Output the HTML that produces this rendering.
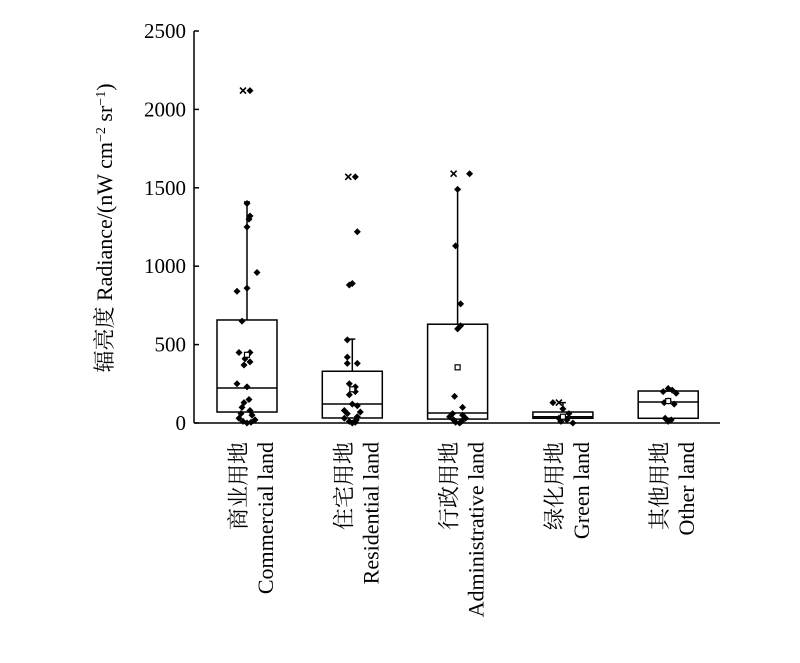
<!DOCTYPE html>
<html><head><meta charset="utf-8"><style>
body{margin:0;background:#fff;}
svg text{font-family:"Liberation Serif","Noto Serif CJK SC",serif;fill:#000;}
</style></head><body>
<svg id="chart" width="800" height="658" viewBox="0 0 800 658" xmlns="http://www.w3.org/2000/svg">
<g id="axes"></g><g id="marks"></g>
<text transform="translate(112,228) rotate(-90)" text-anchor="middle" font-size="22">辐亮度 Radiance/(nW cm<tspan baseline-shift="super" font-size="14">−2</tspan> sr<tspan baseline-shift="super" font-size="14">−1</tspan>)</text>
</svg>
<script>
const categoriesCN=["商业用地","住宅用地","行政用地","绿化用地","其他用地"];
const categoriesEN=["Commercial land","Residential land","Administrative land","Green land","Other land"];
const q1=[70,32,25,30,30];
const median=[223,121,64,40,134];
const q3=[657,330,630,70,204];
const whiskerTop=[1410,535,1490,130,204];
const whiskerBottom=[0,0,0,0,20];
const means=[435,215,355,40,140];
const outliersX=[2120,1570,1590,130,null];
const yTicks=[0,500,1000,1500,2000,2500];
const pts=[
 [2120,1400,1320,1300,1250,960,860,840,650,450,450,410,390,370,250,230,150,130,100,80,60,50,30,20,10,5,0],
 [1570,1220,890,880,530,420,380,380,250,230,200,180,120,110,80,70,60,40,30,20,10,5,0],
 [1590,1490,1130,760,620,600,170,100,60,50,40,30,20,10,5,0],
 [130,90,60,30,20,10,0],
 [220,210,200,190,140,130,120,30,20,10]
];
const jit=[[3,0,3,2,0,10,0,-10,-5,-8,3,-2,3,-3,-10,0,2,-3,-5,3,-6,5,-8,8,-4,4,0],
 [3,5,0,-3,-5,-5,-5,5,-3,3,3,-3,0,5,-8,8,-5,5,-8,4,-3,3,0],
 [12,0,-2,3,3,0,-3,5,-5,5,-8,8,-4,4,-2,2],
 [-10,0,6,-4,4,-2,10],
 [0,4,-5,8,0,-4,6,-3,3,0]];
const NS="http://www.w3.org/2000/svg";
const x0=194,x1=720,yZero=423,yTop=31;
const ys=v=>yZero-(v/2500)*(yZero-yTop);
const xs=i=>247+i*105.3;
function mk(t,a,p){const e=document.createElementNS(NS,t);for(const k in a)e.setAttribute(k,a[k]);p.appendChild(e);return e;}
const ax=document.getElementById('axes'),mg=document.getElementById('marks');
let l=mk('line',{x1:x0,y1:yTop,x2:x0,y2:yZero,stroke:'#000','stroke-width':1.5},ax);


l=mk('line',{x1:x0,y1:yZero,x2:x1,y2:yZero,stroke:'#000','stroke-width':1.5},ax);


yTicks.forEach(v=>{
 let t=mk('line',{x1:x0,y1:ys(v),x2:x0+5,y2:ys(v),stroke:'#000','stroke-width':1.5},ax);
 
 
 let tx=mk('text',{x:x0-8,y:ys(v)+7,'text-anchor':'end','font-size':21},ax);
 
 
 tx.textContent=v;
});
categoriesCN.forEach((c,i)=>{
 const cx=xs(i);
 let g=mk('g',{},mg);
 
 
 mk('line',{x1:cx,y1:ys(whiskerTop[i]),x2:cx,y2:ys(q3[i]),stroke:'#000','stroke-width':1.5},g);
 mk('line',{x1:cx-3,y1:ys(whiskerTop[i]),x2:cx+3,y2:ys(whiskerTop[i]),stroke:'#000','stroke-width':1.5},g);
 mk('rect',{x:cx-30,y:ys(q3[i]),width:60,height:ys(q1[i])-ys(q3[i]),fill:'none',stroke:'#000','stroke-width':1.5},g);
 mk('line',{x1:cx-30,y1:ys(median[i]),x2:cx+30,y2:ys(median[i]),stroke:'#000','stroke-width':1.5},g);
 pts[i].forEach((v,j)=>{
  const px=cx+jit[i][j],py=ys(v);
  let d=mk('path',{d:`M${px} ${py-3.5}L${px+3.5} ${py}L${px} ${py+3.5}L${px-3.5} ${py}Z`,fill:'#000'},g);
  
  
 });
 let m=mk('rect',{x:cx-2.5,y:ys(means[i])-2.5,width:5,height:5,fill:'#fff',stroke:'#000','stroke-width':1.2},g);
 
 
 if(outliersX[i]!==null){const oy=ys(outliersX[i]),ox=cx-4;
  let o=mk('path',{d:`M${ox-3} ${oy-3}L${ox+3} ${oy+3}M${ox+3} ${oy-3}L${ox-3} ${oy+3}`,stroke:'#000','stroke-width':1.6},g);
  
  }
 let t1=mk('text',{transform:`translate(${cx-1},442) rotate(-90)`,'text-anchor':'end','font-size':22},mg);
 
 
 t1.textContent=c;
 let t2=mk('text',{transform:`translate(${cx+26},442) rotate(-90)`,'text-anchor':'end','font-size':22},mg);
 
 
 t2.textContent=categoriesEN[i];
});
</script>
</body></html>
